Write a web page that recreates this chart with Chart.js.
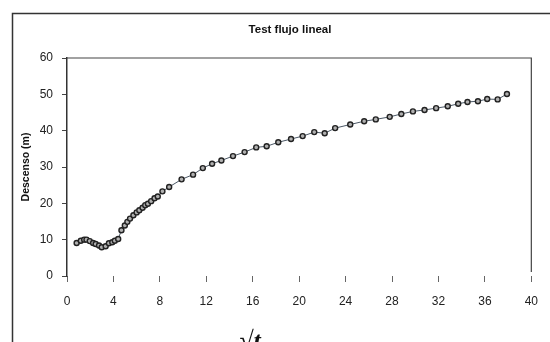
<!DOCTYPE html>
<html>
<head>
<meta charset="utf-8">
<script src="https://cdn.jsdelivr.net/npm/chart.js@4/dist/chart.umd.min.js"></script>
<style>
html,body{margin:0;padding:0;background:#fff;}
#wrap{position:relative;width:550px;height:342px;}
</style>
</head>
<body>
<div id="wrap"><canvas id="c" width="550" height="342"></canvas></div>
<script>
// Data
const sqrtT = [0.83,1.19,1.48,1.68,1.96,2.25,2.47,2.76,2.99,3.33,3.61,3.90,4.12,4.41,4.69,4.98,5.2,5.43,5.72,6.0,6.23,6.51,6.74,6.97,7.25,7.54,7.82,8.22,8.8,9.87,10.86,11.7,12.5,13.3,14.3,15.3,16.3,17.2,18.2,19.3,20.3,21.3,22.2,23.1,24.4,25.6,26.6,27.8,28.8,29.8,30.8,31.8,32.8,33.7,34.5,35.4,36.2,37.1,37.9];
const descenso = [9.1,9.7,10.0,10.0,9.6,9.1,8.8,8.4,7.9,8.2,9.0,9.3,9.7,10.2,12.6,13.9,14.9,15.8,16.7,17.5,18.1,18.8,19.5,19.9,20.6,21.4,21.9,23.3,24.5,26.6,27.9,29.7,30.9,31.8,33.0,34.1,35.4,35.7,36.8,37.7,38.5,39.6,39.3,40.7,41.7,42.6,43.1,43.8,44.6,45.3,45.7,46.2,46.7,47.4,47.9,48.1,48.7,48.6,50.1];
const xTicks = [0,4,8,12,16,20,24,28,32,36,40];
const yTicks = [0,10,20,30,40,50,60];
const titleText = "Test flujo lineal";
const yTitle = "Descenso (m)";
const xTitle = "\u221At";

const points = sqrtT.map((x,i)=>({x:x,y:descenso[i]}));

const decor = {
  id:'decor',
  beforeDraw(chart){
    const ctx = chart.ctx;
    ctx.save();
    ctx.fillStyle='#fff';
    ctx.fillRect(0,0,chart.width,chart.height);
    // outer frame (top & left)
    ctx.strokeStyle='#333';
    ctx.lineWidth=1.5;
    ctx.beginPath();
    ctx.moveTo(12.5,342);
    ctx.lineTo(12.5,13.5);
    ctx.lineTo(550,13.5);
    ctx.stroke();
    ctx.restore();
  },
  afterDraw(chart){
    const ctx = chart.ctx;
    const a = chart.chartArea;
    ctx.save();
    ctx.strokeStyle='#444';
    ctx.lineWidth=1.2;
    ctx.beginPath();
    ctx.moveTo(a.left,a.top);
    ctx.lineTo(a.right,a.top);
    ctx.lineTo(a.right,a.bottom-4);
    ctx.stroke();
    // title
    ctx.fillStyle='#111';
    ctx.font='bold 11.5px "Liberation Sans", Arial, sans-serif';
    ctx.textAlign='center';
    ctx.textBaseline='middle';
    ctx.fillText(titleText,290,30);
    // x axis title
    ctx.font='italic bold 26px "Liberation Serif", "DejaVu Serif", serif';
    ctx.textBaseline='alphabetic';
    ctx.fillText(xTitle,250,349);
    ctx.restore();
  }
};

new Chart(document.getElementById('c'),{
  type:'scatter',
  data:{datasets:[{
    data:points,
    showLine:true,
    borderColor:'#4b5866',
    borderWidth:1,
    pointRadius:2.5,
    pointBorderWidth:1.4,
    pointBorderColor:'#222',
    pointBackgroundColor:'#b0b0b0',
    tension:0
  }]},
  options:{
    responsive:false,
    animation:false,
    events:[],
    layout:{padding:{left:0,right:14,top:58,bottom:0}},
    plugins:{legend:{display:false},title:{display:false},tooltip:{enabled:false}},
    scales:{
      x:{
        type:'linear',min:0,max:40,
        afterBuildTicks(s){s.ticks=xTicks.map(v=>({value:v}));},
        afterFit(s){s.height=66;},
        border:{display:false},
        grid:{drawOnChartArea:false,drawTicks:true,tickLength:6,color:'#666',lineWidth:1},
        ticks:{color:'#222',padding:12,font:{family:'"Liberation Sans", Arial, sans-serif',size:12}}
      },
      y:{
        type:'linear',min:0,max:60,
        afterBuildTicks(s){s.ticks=yTicks.map(v=>({value:v}));},
        afterFit(s){s.width=67;},
        border:{display:true,color:'#333',width:1.5},
        grid:{drawOnChartArea:false,drawTicks:true,tickLength:5,color:'#444'},
        ticks:{color:'#222',padding:9,font:{family:'"Liberation Sans", Arial, sans-serif',size:12}},
        title:{display:true,text:yTitle,color:'#111',padding:{top:20,bottom:0},font:{family:'"Liberation Sans", Arial, sans-serif',size:10.5,weight:'bold'}}
      }
    }
  },
  plugins:[decor]
});
</script>
</body>
</html>
